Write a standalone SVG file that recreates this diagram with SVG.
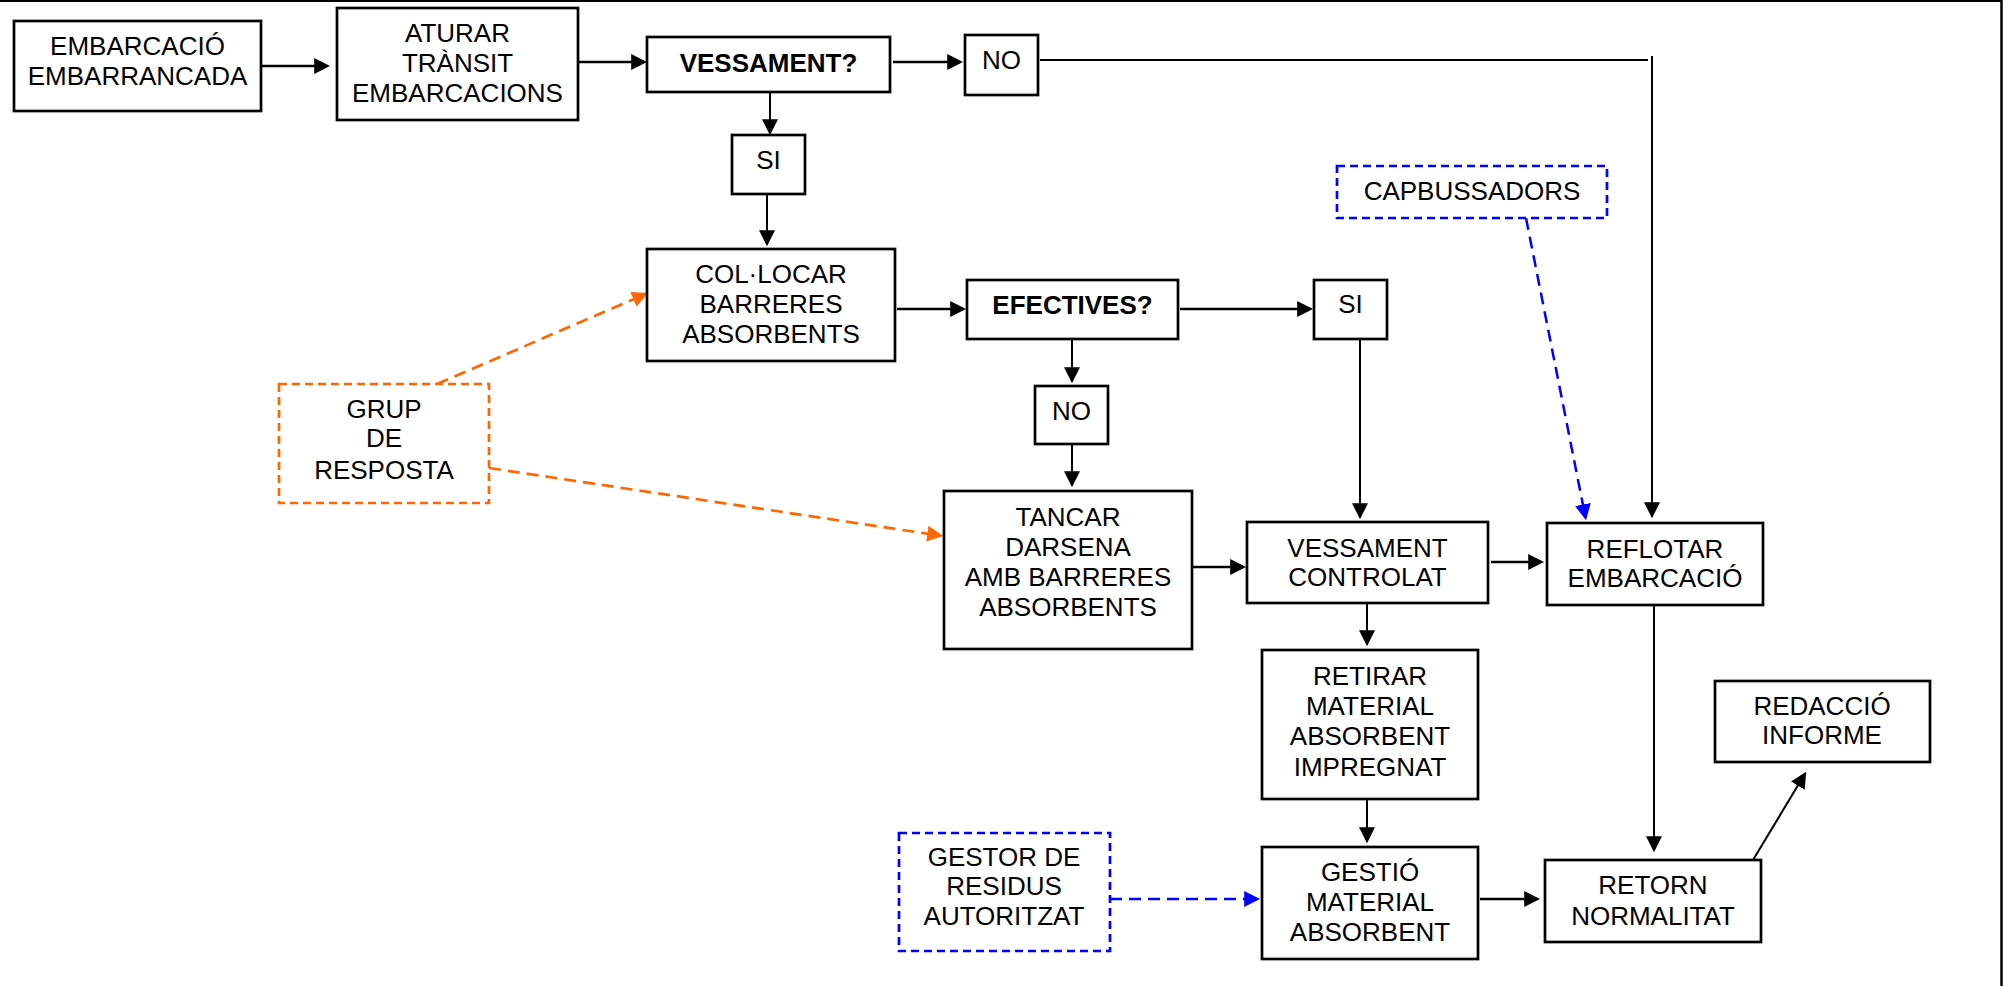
<svg xmlns="http://www.w3.org/2000/svg" width="2006" height="986" viewBox="0 0 2006 986">
<defs>
<style>
.box{fill:#fff;stroke:#000;stroke-width:2.7}
.dbo{fill:#fff;stroke:#FF6600;stroke-width:2.7;stroke-dasharray:8 5}
.dbb{fill:#fff;stroke:#0000FF;stroke-width:2.7;stroke-dasharray:8 5}
text{font-family:"Liberation Sans",Arial,sans-serif;font-size:26px;fill:#000;text-anchor:middle}
.b{font-weight:bold}
.h{stroke:#000;stroke-width:2.7;fill:none}
.v{stroke:#000;stroke-width:2;fill:none}
.ao{stroke:#FF6600;stroke-width:2.7;fill:none;stroke-dasharray:12 7}
.ab{stroke:#0000FF;stroke-width:2.5;fill:none;stroke-dasharray:12 7}
</style>
<marker id="ak" markerUnits="userSpaceOnUse" markerWidth="16" markerHeight="16" viewBox="0 0 15 15" refX="12" refY="7.5" orient="auto"><path d="M0,0 L15,7.5 L0,15 z" fill="#000"/></marker>
<marker id="ao" markerUnits="userSpaceOnUse" markerWidth="16" markerHeight="16" viewBox="0 0 15 15" refX="12" refY="7.5" orient="auto"><path d="M0,0 L15,7.5 L0,15 z" fill="#FF6600"/></marker>
<marker id="ab" markerUnits="userSpaceOnUse" markerWidth="16" markerHeight="16" viewBox="0 0 15 15" refX="12" refY="7.5" orient="auto"><path d="M0,0 L15,7.5 L0,15 z" fill="#0000FF"/></marker>
</defs>
<rect x="0" y="0" width="2006" height="986" fill="#fff"/>
<g id="frame" stroke="#000" fill="none">
<line x1="0" y1="1" x2="2002" y2="1" stroke-width="2"/>
<line x1="2001.5" y1="0" x2="2001.5" y2="986" stroke-width="2.5"/>
</g>
<g id="connectors">
<line class="h" x1="262" y1="66" x2="327" y2="66" marker-end="url(#ak)"/>
<line class="h" x1="579" y1="62" x2="644" y2="62" marker-end="url(#ak)"/>
<line class="h" x1="893" y1="62" x2="960" y2="62" marker-end="url(#ak)"/>
<line class="v" x1="1040" y1="60" x2="1648" y2="60"/>
<line class="v" x1="1652" y1="56" x2="1652" y2="515" marker-end="url(#ak)"/>
<line class="v" x1="770" y1="93" x2="770" y2="132" marker-end="url(#ak)"/>
<line class="v" x1="767" y1="195" x2="767" y2="243" marker-end="url(#ak)"/>
<line class="h" x1="897" y1="309" x2="963" y2="309" marker-end="url(#ak)"/>
<line class="h" x1="1180" y1="309" x2="1310" y2="309" marker-end="url(#ak)"/>
<line class="v" x1="1360" y1="339" x2="1360" y2="516" marker-end="url(#ak)"/>
<line class="v" x1="1072" y1="340" x2="1072" y2="380" marker-end="url(#ak)"/>
<line class="v" x1="1072" y1="445" x2="1072" y2="484" marker-end="url(#ak)"/>
<line class="h" x1="1193" y1="567" x2="1243" y2="567" marker-end="url(#ak)"/>
<line class="h" x1="1491" y1="562" x2="1541" y2="562" marker-end="url(#ak)"/>
<line class="v" x1="1367" y1="603" x2="1367" y2="643" marker-end="url(#ak)"/>
<line class="v" x1="1367" y1="799" x2="1367" y2="840" marker-end="url(#ak)"/>
<line class="h" x1="1480" y1="899" x2="1537" y2="899" marker-end="url(#ak)"/>
<line class="v" x1="1654" y1="602" x2="1654" y2="849" marker-end="url(#ak)"/>
<line class="v" x1="1753" y1="860" x2="1804.5" y2="774.6" marker-end="url(#ak)"/>
<line class="ao" x1="437" y1="384" x2="645.2" y2="294.2" marker-end="url(#ao)"/>
<line class="ao" x1="489" y1="468" x2="940" y2="535.6" marker-end="url(#ao)"/>
<line class="ab" x1="1526" y1="218" x2="1585.4" y2="517.1" marker-end="url(#ab)"/>
<line class="ab" x1="1110" y1="899" x2="1257" y2="899" stroke-width="2.7" marker-end="url(#ab)"/>
</g>
<g id="n-embarcacio"><rect class="box" x="14" y="21" width="247" height="90"/><text x="137.5" y="55">EMBARCACIÓ</text><text x="137.5" y="85">EMBARRANCADA</text></g>
<g id="n-aturar"><rect class="box" x="337" y="8" width="241" height="112"/><text x="457.5" y="42">ATURAR</text><text x="457.5" y="72">TRÀNSIT</text><text x="457.5" y="102">EMBARCACIONS</text></g>
<g id="n-vessament"><rect class="box" x="647" y="37" width="243" height="55"/><text class="b" x="768.5" y="72">VESSAMENT?</text></g>
<g id="n-no1"><rect class="box" x="965" y="35" width="73" height="60"/><text x="1001.5" y="69">NO</text></g>
<g id="n-si1"><rect class="box" x="732" y="135" width="73" height="59"/><text x="768.5" y="169">SI</text></g>
<g id="n-collocar"><rect class="box" x="647" y="249" width="248" height="112"/><text x="771" y="283">COL·LOCAR</text><text x="771" y="313">BARRERES</text><text x="771" y="343">ABSORBENTS</text></g>
<g id="n-efectives"><rect class="box" x="967" y="280" width="211" height="59"/><text class="b" x="1072.5" y="314">EFECTIVES?</text></g>
<g id="n-si2"><rect class="box" x="1314" y="280" width="73" height="59"/><text x="1350.5" y="313">SI</text></g>
<g id="n-no2"><rect class="box" x="1035" y="386" width="73" height="58"/><text x="1071.5" y="420">NO</text></g>
<g id="n-tancar"><rect class="box" x="944" y="491" width="248" height="158"/><text x="1068" y="526">TANCAR</text><text x="1068" y="556">DARSENA</text><text x="1068" y="586">AMB BARRERES</text><text x="1068" y="616">ABSORBENTS</text></g>
<g id="n-controlat"><rect class="box" x="1247" y="522" width="241" height="81"/><text x="1367.5" y="557">VESSAMENT</text><text x="1367.5" y="586">CONTROLAT</text></g>
<g id="n-reflotar"><rect class="box" x="1547" y="523" width="216" height="82"/><text x="1655" y="558">REFLOTAR</text><text x="1655" y="587">EMBARCACIÓ</text></g>
<g id="n-capbussadors"><rect class="dbb" x="1337" y="166" width="270" height="52"/><text x="1472" y="200">CAPBUSSADORS</text></g>
<g id="n-grup"><rect class="dbo" x="279" y="384" width="210" height="119"/><text x="384" y="418">GRUP</text><text x="384" y="447">DE</text><text x="384" y="479">RESPOSTA</text></g>
<g id="n-retirar"><rect class="box" x="1262" y="650" width="216" height="149"/><text x="1370" y="685">RETIRAR</text><text x="1370" y="715">MATERIAL</text><text x="1370" y="745">ABSORBENT</text><text x="1370" y="776">IMPREGNAT</text></g>
<g id="n-gestio"><rect class="box" x="1262" y="847" width="216" height="112"/><text x="1370" y="881">GESTIÓ</text><text x="1370" y="911">MATERIAL</text><text x="1370" y="941">ABSORBENT</text></g>
<g id="n-retorn"><rect class="box" x="1545" y="860" width="216" height="82"/><text x="1653" y="894">RETORN</text><text x="1653" y="925">NORMALITAT</text></g>
<g id="n-redaccio"><rect class="box" x="1715" y="681" width="215" height="81"/><text x="1822" y="715">REDACCIÓ</text><text x="1822" y="744">INFORME</text></g>
<g id="n-gestor"><rect class="dbb" x="899" y="833" width="211" height="118"/><text x="1004" y="866">GESTOR DE</text><text x="1004" y="895">RESIDUS</text><text x="1004" y="925">AUTORITZAT</text></g>
</svg>
